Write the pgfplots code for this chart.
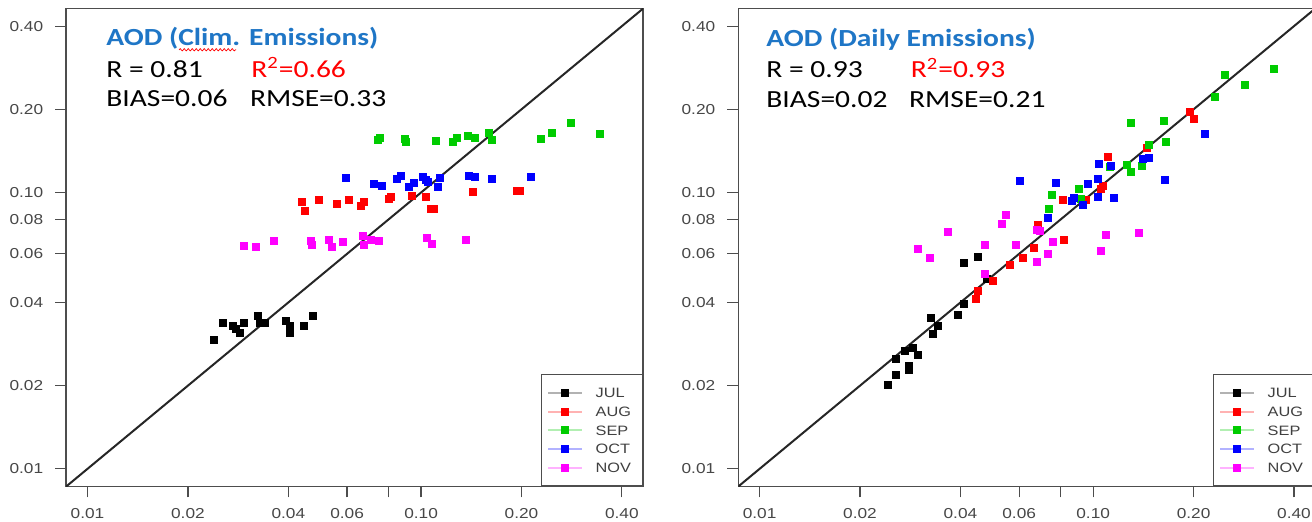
\documentclass[border=0pt]{standalone}
\usepackage{fontspec}
\setmainfont{Liberation Sans}[FakeStretch=1.2]
\newfontfamily\calib{Carlito}[FakeStretch=1.2]
\usepackage{pgfplots}
\pgfplotsset{compat=1.18}
\usetikzlibrary{decorations.pathmorphing}
\definecolor{ttl}{HTML}{1F76C6}
\definecolor{sgreen}{HTML}{00CC00}
\definecolor{smag}{HTML}{FF00FF}
\definecolor{sred}{HTML}{FF0000}
\definecolor{sblue}{HTML}{0000FF}
\definecolor{frame}{HTML}{4D4D4D}

\tikzset{mon/.style={only marks, mark=square*, mark size=1.75pt, color=#1}}
\pgfplotsset{
  legend image code/.code={
    \draw[draw=none, fill=none] (0pt,0pt) -- (23.7pt,0pt);
    \draw[#1, mark=none, draw opacity=0.3, line width=1pt] (0pt,0pt) -- (16.7pt,0pt);
    \draw[#1] plot coordinates {(8.35pt,0pt)};
  },
}
\pgfplotsset{
  aodpanel/.style={
    scale only axis, width=288.5pt, height=239pt,
    xmin=0.00863, xmax=0.4634, ymin=0.00863, ymax=0.4634,
    xtick={0.01,0.02,0.04,0.06,0.08,0.1,0.2,0.4},
    xticklabels={0.01,0.02,0.04,0.06,,0.10,0.20,0.40},
    ytick={0.01,0.02,0.04,0.06,0.08,0.1,0.2,0.4},
    yticklabels={0.01,0.02,0.04,0.06,0.08,0.10,0.20,0.40},
    xminorticks=false, yminorticks=false,
    xtick pos=left, ytick pos=left,
    tick align=outside, major tick length=5.5pt,
    axis line style={frame, line width=0.7pt},
    tick style={frame, line width=0.6pt},
    tick label style={font=\fontsize{7.2}{8}\selectfont, text=black!72},
    xticklabel style={yshift=-2pt},
    yticklabel style={xshift=-2.5pt},
    /pgf/number format/assume math mode=true,
    legend cell align=left,
    legend style={at={(1,0)}, anchor=south east, draw=frame, line width=0.6pt,
      fill=white, font=\fontsize{6.8}{7}\selectfont, text=black!75,
      inner xsep=2.8pt, inner ysep=6.7pt, row sep=4.65pt,
      nodes={inner sep=0pt, text height=4.7pt, text depth=0pt}},
  },
}

\begin{document}
\begin{tikzpicture}
\path[use as bounding box] (0,0) rectangle (656pt,261pt);
\clip (0,0) rectangle (656pt,261pt);

% climatological emissions
\begin{loglogaxis}[aodpanel, at={(33.1pt,17.75pt)}, anchor=south west]
  \addplot[mon=black] coordinates {
    (0.0240,0.0294)(0.0255,0.0338)(0.0273,0.0329)(0.0279,0.0320)(0.0286,0.0311)
    (0.0295,0.0338)(0.0324,0.0357)(0.0328,0.0336)(0.0341,0.0336)(0.0394,0.0343)
    (0.0403,0.0329)(0.0405,0.0311)(0.0446,0.0329)(0.0473,0.0357)};
  \addplot[mon=sred] coordinates {
    (0.0440,0.0921)(0.0449,0.0861)(0.0495,0.0941)(0.0558,0.0910)(0.0608,0.0941)
    (0.0659,0.0895)(0.0675,0.0921)(0.0801,0.0947)(0.0811,0.0967)(0.0941,0.0973)
    (0.1036,0.0967)(0.1068,0.0871)(0.1092,0.0871)(0.1428,0.1003)(0.1938,0.1014)
    (0.1974,0.1014)};
  \addplot[mon=sgreen] coordinates {
    (0.0743,0.1549)(0.0753,0.1581)(0.0895,0.1562)(0.0899,0.1523)(0.1111,0.1536)
    (0.1245,0.1523)(0.1279,0.1578)(0.1380,0.1607)(0.1453,0.1575)(0.1600,0.1648)
    (0.1631,0.1549)(0.2293,0.1562)(0.2467,0.1637)(0.2813,0.1791)(0.3443,0.1630)};
  \addplot[mon=sblue] coordinates {
    (0.0597,0.1130)(0.0723,0.1075)(0.0762,0.1057)(0.0847,0.1121)(0.0869,0.1149)
    (0.0919,0.1049)(0.0952,0.1081)(0.1016,0.1142)(0.1033,0.1111)(0.1050,0.1093)
    (0.1123,0.1049)(0.1142,0.1130)(0.1390,0.1149)(0.1448,0.1142)(0.1627,0.1121)
    (0.2137,0.1142)};
  \addplot[mon=smag] coordinates {
    (0.0295,0.0642)(0.0320,0.0636)(0.0361,0.0668)(0.0468,0.0670)(0.0471,0.0648)
    (0.0530,0.0675)(0.0542,0.0636)(0.0584,0.0660)(0.0667,0.0694)(0.0675,0.0648)
    (0.0706,0.0675)(0.0748,0.0670)(0.1043,0.0685)(0.1080,0.0652)(0.1358,0.0675)};
  \addplot[black!85, line width=1pt, forget plot] coordinates {(0.00863,0.00863) (0.4634,0.4634)};
  \legend{JUL\hspace*{3pt},AUG\hspace*{3pt},SEP\hspace*{3pt},OCT\hspace*{3pt},NOV\hspace*{3pt}}
\end{loglogaxis}

% daily emissions
\begin{loglogaxis}[aodpanel, at={(369.15pt,17.75pt)}, anchor=south west]
  \addplot[mon=black] coordinates {
    (0.02417,0.02017)(0.02561,0.02192)(0.02561,0.02497)(0.02725,0.02661)(0.02807,0.02362)
    (0.02807,0.02279)(0.02872,0.02737)(0.02974,0.02589)(0.03260,0.03514)(0.03299,0.03075)
    (0.03429,0.03295)(0.03937,0.03611)(0.04104,0.03967)(0.04087,0.05580)(0.04502,0.05853)
    (0.04801,0.04862)};
  \addplot[mon=sred] coordinates {
    (0.0445,0.0412)(0.0451,0.0439)(0.0499,0.0479)(0.0561,0.0545)(0.0614,0.0578)
    (0.0664,0.0631)(0.0681,0.0766)(0.0816,0.0673)(0.0809,0.0938)(0.0952,0.0938)
    (0.1053,0.1028)(0.1066,0.1056)(0.1105,0.1345)(0.1450,0.1455)(0.1956,0.1959)
    (0.2000,0.1841)};
  \addplot[mon=sgreen] coordinates {
    (0.0751,0.0980)(0.0739,0.0870)(0.0909,0.1033)(0.0919,0.0952)(0.1123,0.1243)
    (0.1264,0.1261)(0.1293,0.1187)(0.1398,0.1248)(0.1465,0.1490)(0.1299,0.1784)
    (0.1627,0.1814)(0.1648,0.1526)(0.2315,0.2216)(0.2486,0.2668)(0.2854,0.2444)
    (0.3475,0.2790)};
  \addplot[mon=sblue] coordinates {
    (0.0604,0.1101)(0.0772,0.1086)(0.0732,0.0807)(0.0861,0.0932)(0.0878,0.0958)
    (0.0929,0.0902)(0.0963,0.1072)(0.1031,0.1117)(0.1034,0.0961)(0.1042,0.1272)
    (0.1133,0.1248)(0.1153,0.0954)(0.1408,0.1319)(0.1470,0.1330)(0.1642,0.1112)
    (0.2162,0.1633)};
  \addplot[mon=smag] coordinates {
    (0.0298,0.0626)(0.0324,0.0582)(0.0366,0.0720)(0.0472,0.0647)(0.0474,0.0509)
    (0.0534,0.0772)(0.0546,0.0832)(0.0587,0.0647)(0.0678,0.0731)(0.0693,0.0726)
    (0.0678,0.0561)(0.0730,0.0602)(0.0756,0.0665)(0.1055,0.0613)(0.1092,0.0701)
    (0.1368,0.0715)};
  \addplot[black!85, line width=1pt, forget plot] coordinates {(0.00863,0.00863) (0.4634,0.4634)};
  \legend{JUL\hspace*{3pt},AUG\hspace*{3pt},SEP\hspace*{3pt},OCT\hspace*{3pt},NOV\hspace*{3pt}}
\end{loglogaxis}

% annotations
\tikzset{ann/.style={anchor=base west, inner sep=0pt, font=\fontsize{12.3}{14}\selectfont\calib}}
\node[ann, text=ttl, font=\fontsize{12.3}{14}\selectfont\calib\bfseries] at (53pt,238.3pt) {AOD (Clim. Emissions)};
\draw[sred, line width=0.35pt, decorate, decoration={snake, amplitude=0.55pt, segment length=2pt}]
  (89.5pt,236.1pt) -- (118pt,236.1pt);
\node[ann] at (53pt,222.4pt) {R = 0.81};
\node[ann, text=sred] at (125.5pt,222.4pt) {R\textsuperscript{2}=0.66};
\node[ann] at (53pt,207.5pt) {BIAS=0.06};
\node[ann] at (124.8pt,207.5pt) {RMSE=0.33};

\node[ann, text=ttl, font=\fontsize{12.3}{14}\selectfont\calib\bfseries] at (383pt,237.8pt) {AOD (Daily Emissions)};
\node[ann] at (383pt,222pt) {R = 0.93};
\node[ann, text=sred] at (455.2pt,222pt) {R\textsuperscript{2}=0.93};
\node[ann] at (383pt,207pt) {BIAS=0.02};
\node[ann] at (454.4pt,207pt) {RMSE=0.21};
\end{tikzpicture}
\end{document}
